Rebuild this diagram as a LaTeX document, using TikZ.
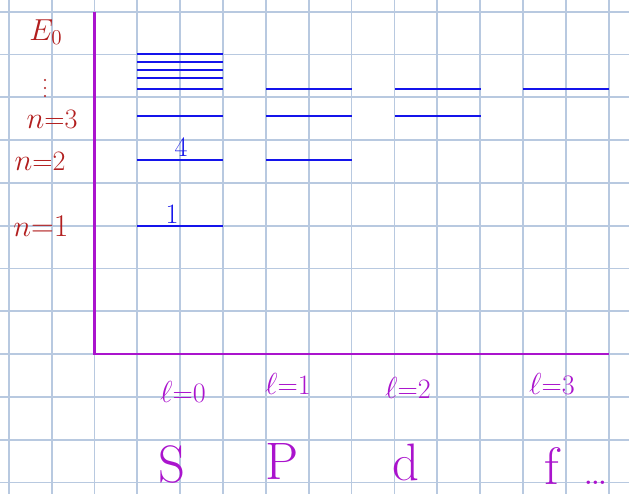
\documentclass[tikz,border=0pt]{standalone}
\usepackage{amsmath, amssymb}
\usepackage{xcolor}
\definecolor{gridblue}{RGB}{184,201,224}
\definecolor{levelblue}{RGB}{20,20,235}
\definecolor{axispurple}{RGB}{170,20,205}
\definecolor{penred}{RGB}{178,30,30}

\begin{document}
\begin{tikzpicture}[x=0.02cm, y=-0.02cm,
  gridline/.style={gridblue, line width=1pt},
  axisline/.style={axispurple, line width=1.5pt},
  level/.style={levelblue, line width=1.3pt},
  redlabel/.style={penred, font=\fontsize{16}{16}\selectfont},
  bluelabel/.style={levelblue, font=\fontsize{16}{16}\selectfont},
  lvalue/.style={axispurple, font=\fontsize{16}{16}\selectfont},
  orbital/.style={axispurple, font=\fontsize{30}{30}\selectfont}]
  \useasboundingbox (0, 0) rectangle (629, 494);
  \fill[white] (0, 0) rectangle (629, 494);

  % Squared paper
  \foreach \i in {0,...,14}
    \draw[gridline] ({8.8 + 42.85*\i}, 0) -- ++(0, 494);
  \foreach \j in {0,...,11}
    \draw[gridline] (0, {11.7 + 42.8*\j}) -- ++(629, 0);

  % Axes
  \draw[axisline] (94.5, 11.7) -- (94.5, 354) -- (608.7, 354);

  % Levels, column l=0
  \foreach \y in {54, 62.3, 69.7, 77.7, 89.3, 116, 159.7, 225.7}
    \draw[level] (137, \y) -- (223, \y);

  % Levels, column l=1
  \foreach \y in {89.3, 116, 159.7}
    \draw[level] (266, \y) -- (352, \y);

  % Levels, column l=2
  \foreach \y in {89.3, 116}
    \draw[level] (395, \y) -- (481, \y);

  % Levels, column l=3
  \draw[level] (523, 89.3) -- (609, 89.3);

  % Energy labels
  \node[redlabel, font=\fontsize{18}{18}\selectfont] (E0) at (46, 32) {$E_0$};
  \foreach \y in {80, 88, 96}
    \fill[penred] (45, \y) circle (1.2);
  \node[redlabel] (n3) at (52, 119) {$n$=3};
  \node[redlabel] (n2) at (40, 161) {$n$=2};
  \node[redlabel, font=\fontsize{18}{18}\selectfont] (n1) at (41, 226) {$n$=1};

  % Counts
  \node[bluelabel] (c4) at (181, 147) {4};
  \node[bluelabel] (c1) at (172, 214) {1};

  % Quantum numbers l
  \node[lvalue] (l0) at (183, 392) {$\ell$=0};
  \node[lvalue] (l1) at (288, 384) {$\ell$=1};
  \node[lvalue] (l2) at (408, 388) {$\ell$=2};
  \node[lvalue] (l3) at (552, 384) {$\ell$=3};

  % Orbital letters
  \node[orbital] (s) at (172, 464) {S};
  \node[orbital] (p) at (282, 461) {P};
  \node[orbital] (d) at (406, 462) {d};
  \node[orbital, anchor=base west] (f) at (538, 484) {f\, {\fontsize{24}{24}\selectfont\dots}};
\end{tikzpicture}
\end{document}
